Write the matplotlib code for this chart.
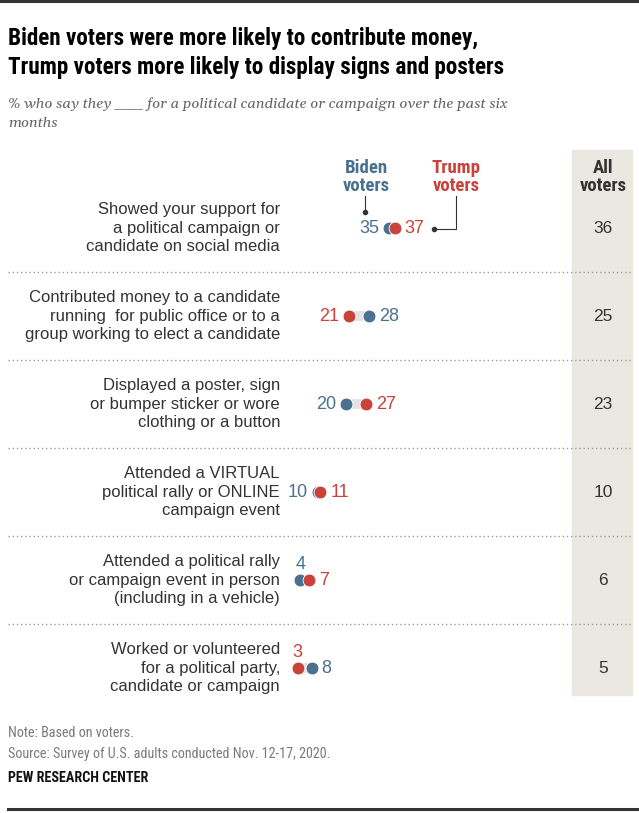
import matplotlib
matplotlib.use("Agg")
import matplotlib.pyplot as plt
from matplotlib.patches import Rectangle
from matplotlib.lines import Line2D
from matplotlib.transforms import blended_transform_factory

# --- data ---
activities = [
    "Showed your support for\na political campaign or\ncandidate on social media",
    "Contributed money to a candidate\nrunning  for public office or to a\ngroup working to elect a candidate",
    "Displayed a poster, sign\nor bumper sticker or wore\nclothing or a button",
    "Attended a VIRTUAL\npolitical rally or ONLINE\ncampaign event",
    "Attended a political rally\nor campaign event in person\n(including in a vehicle)",
    "Worked or volunteered\nfor a political party,\ncandidate or campaign",
]
biden = [35, 28, 20, 10, 4, 8]
trump = [37, 21, 27, 11, 7, 3]
all_voters = [36, 25, 23, 10, 6, 5]

title = ("Biden voters were more likely to contribute money,\n"
         "Trump voters more likely to display signs and posters")
subtitle = ("% who say they ___ for a political candidate or campaign over the past six\n"
            "months")
note = "Note: Based on voters."
source = "Source: Survey of U.S. adults conducted Nov. 12-17, 2020."
credit = "PEW RESEARCH CENTER"

BLUE = "#4B7190"
RED = "#C9433A"
BAND = "#EAE8E1"
TXT = "#333333"

W, H = 639, 813


def fx(px):
    return px / W


def fy(py):
    return 1 - py / H


COND = ["Roboto Condensed", "Liberation Sans", "DejaVu Sans"]
SANS = ["Liberation Sans", "DejaVu Sans"]
SERIF = ["Gelasio", "Liberation Serif", "DejaVu Serif"]

fig = plt.figure(figsize=(W / 100, H / 100), dpi=100)
fig.patch.set_facecolor("white")

# top / bottom rules
fig.add_artist(Line2D([0, 1], [fy(1.5), fy(1.5)], color="#333333", lw=2.2))
fig.add_artist(Line2D([fx(8), 1], [fy(809), fy(809)], color="#333333", lw=2.2))

# titles
fig.text(fx(8), fy(53), title, family=COND, fontweight="bold", fontsize=16.7,
         color="#000000", va="center", ha="left", linespacing=1.3)
fig.text(fx(8), fy(114), subtitle, family=SERIF, style="italic", fontsize=10.7,
         color="#666666", va="center", ha="left", linespacing=1.6)

# "All voters" band
fig.add_artist(Rectangle((fx(572), fy(695)), 60 / W, 545 / H,
                         transform=fig.transFigure, color=BAND, zorder=0))

ax = fig.add_axes([fx(289), fy(712), 286 / W, 528 / H])
ax.set_xlim(0, 100)
ax.set_ylim(5.5, -0.5)
ax.axis("off")
ax.patch.set_alpha(0)

tr = blended_transform_factory(fig.transFigure, ax.transData)
rows = list(range(len(activities)))

for i, label in enumerate(activities):
    ax.text(fx(280), i, label, transform=tr, ha="right", va="center",
            family=SANS, fontsize=12, color=TXT, linespacing=1.32)
    ax.text(fx(603), i, str(all_voters[i]), transform=tr, ha="center",
            va="center", family=SANS, fontsize=12.5, color=TXT)
    if i < len(activities) - 1:
        ax.axhline(i + 0.5, xmin=(8 - 289) / 286, xmax=(632 - 289) / 286,
                   color="#9a9a9a", lw=1, linestyle=(0, (1, 2)), clip_on=False)

# connecting bars
for i in rows:
    ax.plot([biden[i], trump[i]], [i, i], color="#E3E3E3", lw=7,
            solid_capstyle="butt", zorder=1)

ax.scatter(biden, rows, s=85, color=BLUE, edgecolor="white", linewidth=0.6,
           zorder=3)
ax.scatter(trump, rows, s=85, color=RED, edgecolor="white", linewidth=0.6,
           zorder=4)

# value labels
for i in rows:
    b, t = biden[i], trump[i]
    if b < t:
        lo, lo_c, hi, hi_c = b, BLUE, t, RED
    else:
        lo, lo_c, hi, hi_c = t, RED, b, BLUE
    ax.annotate(str(hi), (hi, i), xytext=(7, 0), textcoords="offset points",
                ha="left", va="center", family=SANS, fontsize=13, color=hi_c)
    if hi < 9:
        ax.annotate(str(lo), (lo, i), xytext=(0, 11.5), textcoords="offset points",
                    ha="center", va="center", family=SANS, fontsize=13, color=lo_c)
    else:
        ax.annotate(str(lo), (lo, i), xytext=(-7, 0), textcoords="offset points",
                    ha="right", va="center", family=SANS, fontsize=13, color=lo_c)

# header labels
fig.text(fx(366), fy(177), "Biden\nvoters", family=COND, fontweight="bold",
         fontsize=13.5, color=BLUE, ha="center", va="center", linespacing=1.0)
fig.text(fx(456), fy(177), "Trump\nvoters", family=COND, fontweight="bold",
         fontsize=13.5, color=RED, ha="center", va="center", linespacing=1.0)
fig.text(fx(603), fy(177), "All\nvoters", family=COND, fontweight="bold",
         fontsize=13.5, color=TXT, ha="center", va="center", linespacing=1.0)

# leader lines
fig.add_artist(Line2D([fx(365), fx(365)], [fy(196), fy(212)], color=TXT, lw=0.8))
fig.add_artist(Line2D([fx(365)], [fy(212)], marker="o", ms=3, color=TXT))
fig.add_artist(Line2D([fx(434), fx(456), fx(456)], [fy(229), fy(229), fy(196)],
                      color=TXT, lw=0.8))
fig.add_artist(Line2D([fx(434)], [fy(229)], marker="o", ms=3, color=TXT))

# footer
fig.text(fx(8), fy(733), note, family=COND, fontsize=10.2, color="#7a7a7a",
         ha="left", va="center")
fig.text(fx(8), fy(754), source, family=COND, fontsize=10.2, color="#7a7a7a",
         ha="left", va="center")
fig.text(fx(8), fy(778), credit, family=COND, fontweight="bold", fontsize=10.2,
         color="#111111", ha="left", va="center")

fig.savefig("out.png", dpi=100)
